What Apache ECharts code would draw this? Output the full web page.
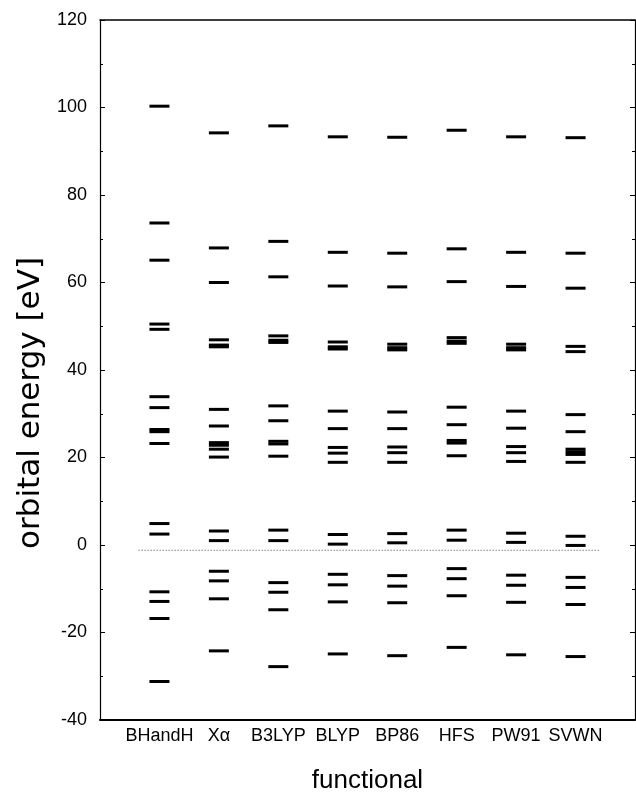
<!DOCTYPE html>
<html>
<head>
<meta charset="utf-8">
<script src="https://cdn.jsdelivr.net/npm/echarts@6/dist/echarts.min.js"></script>
<style>
  html, body { margin: 0; padding: 0; background: #fff; }
  #chart { width: 636px; height: 796px; }
</style>
</head>
<body>
<div id="chart"></div>
<script>
// functionals along the x axis (placed at 1..8)
const functionals = ['BHandH', 'Xα', 'B3LYP', 'BLYP', 'BP86', 'HFS', 'PW91', 'SVWN'];

// orbital energies [eV] per functional
const bhandh = [100.3, 73.6, 65.1, 50.5, 49.3, 33.9, 31.4, 26.4, 25.9, 23.2, 4.9, 2.5, -10.7, -12.9, -16.8, -31.2];
const xalpha = [94.2, 67.9, 60.0, 46.9, 45.7, 45.3, 31.0, 27.2, 23.4, 22.8, 21.9, 20.1, 3.2, 1.0, -6.0, -8.2, -12.3, -24.2];
const b3lyp  = [95.8, 69.4, 61.3, 47.8, 46.8, 46.3, 31.8, 28.4, 23.7, 23.1, 20.3, 3.4, 1.0, -8.6, -10.8, -14.8, -27.8];
const blyp   = [93.3, 66.9, 59.2, 46.4, 45.3, 44.8, 30.6, 26.6, 22.3, 21.0, 18.9, 2.4, 0.2, -6.7, -9.1, -13.0, -24.9];
const bp86   = [93.2, 66.7, 59.0, 45.9, 45.1, 44.6, 30.4, 26.6, 22.4, 21.1, 18.9, 2.6, 0.5, -7.0, -9.4, -13.2, -25.3];
const hfs    = [94.8, 67.7, 60.2, 47.4, 46.6, 46.1, 31.5, 27.5, 23.9, 23.3, 20.4, 3.4, 1.1, -5.4, -7.7, -11.6, -23.4];
const pw91   = [93.3, 66.9, 59.1, 45.9, 45.1, 44.6, 30.6, 26.7, 22.5, 21.1, 19.1, 2.7, 0.6, -6.9, -9.2, -13.1, -25.1];
const svwn   = [93.1, 66.7, 58.7, 45.4, 44.2, 29.8, 25.9, 21.9, 21.3, 20.7, 18.9, 2.0, -0.1, -7.4, -9.7, -13.6, -25.5];

const levels = [bhandh, xalpha, b3lyp, blyp, bp86, hfs, pw91, svwn];

// dotted reference line (x from, x to, energy)
const dottedX = [0.65, 8.4];
const dottedY = -1.2;

// y ticks
const yMin = -40, yMax = 120, yStep = 20;

const font = 'Liberation Sans';

const points = [];
levels.forEach((arr, i) => {
  arr.forEach(e => points.push([i + 1, e]));
});

const chart = echarts.init(document.getElementById('chart'));
chart.setOption({
  backgroundColor: '#fff',
  animation: false,
  grid: { left: 100, right: 1, top: 20, bottom: 76, outerBoundsMode: 'none' },
  xAxis: [
    {
      type: 'value',
      min: 0,
      max: 9,
      interval: 1,
      name: 'functional',
      nameLocation: 'middle',
      nameGap: 48,
      nameTextStyle: { fontFamily: font, fontSize: 26, color: '#000' },
      axisLine: { onZero: false, lineStyle: { color: '#000', width: 2 } },
      axisTick: { show: false },
      splitLine: { show: false },
      axisLabel: {
        margin: 7,
        fontFamily: font,
        fontSize: 18,
        color: '#000',
        formatter: v => functionals[v - 1] || ''
      }
    },
    {
      type: 'value',
      position: 'top',
      min: 0,
      max: 9,
      axisLine: { show: true, onZero: false, lineStyle: { color: '#000', width: 1.5 } },
      axisTick: { show: false },
      axisLabel: { show: false },
      splitLine: { show: false }
    }
  ],
  yAxis: [
    {
      type: 'value',
      min: yMin,
      max: yMax,
      interval: yStep,
      name: 'orbital energy [eV]',
      nameLocation: 'middle',
      nameGap: 50,
      nameTextStyle: { fontFamily: 'DejaVu Sans', fontSize: 31, color: '#000', padding: [0, 66, 0, 0] },
      axisLine: { show: true, onZero: false, lineStyle: { color: '#000', width: 1.2 } },
      axisTick: { show: true, inside: true, length: 5, lineStyle: { color: '#000' } },
      minorTick: { show: true, splitNumber: 2, length: 3, lineStyle: { color: '#000' } },
      splitLine: { show: false },
      axisLabel: { margin: 13, fontFamily: font, fontSize: 18, color: '#000' }
    },
    {
      type: 'value',
      position: 'right',
      min: yMin,
      max: yMax,
      interval: yStep,
      axisLine: { show: true, onZero: false, lineStyle: { color: '#000', width: 1.2 } },
      axisTick: { show: true, inside: true, length: 5, lineStyle: { color: '#000' } },
      minorTick: { show: true, splitNumber: 2, length: 3, lineStyle: { color: '#000' } },
      splitLine: { show: false },
      axisLabel: { show: false }
    }
  ],
  series: [
    {
      type: 'scatter',
      data: points,
      symbol: 'rect',
      symbolSize: [20, 3],
      itemStyle: { color: '#000', opacity: 1 }
    },
    {
      type: 'line',
      data: [[dottedX[0], dottedY], [dottedX[1], dottedY]],
      symbol: 'none',
      lineStyle: { color: '#444', width: 1, type: [1, 2] }
    }
  ]
});
</script>
</body>
</html>
